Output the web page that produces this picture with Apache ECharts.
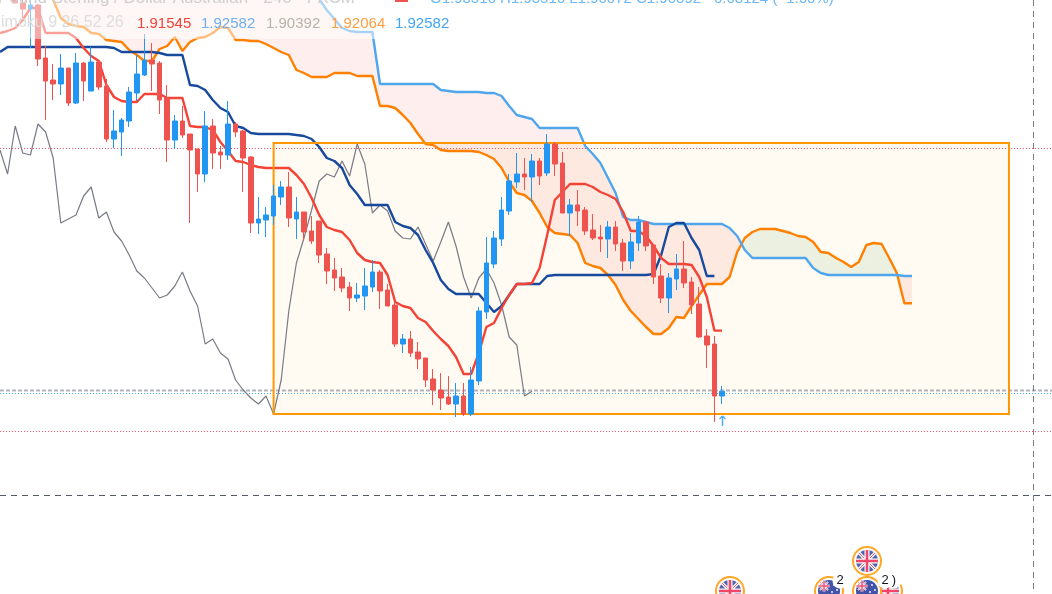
<!DOCTYPE html>
<html><head><meta charset="utf-8">
<style>html,body{margin:0;padding:0;background:#fff;overflow:hidden}#c{width:1052px;height:594px}</style>
<script src="https://cdn.jsdelivr.net/npm/echarts@6/dist/echarts.min.js"></script>
</head><body><div id="c"></div>
<script>
// bar index of the first slot (the chart starts mid-history)
const firstBar = -5;
const lastBar = 134;

const opens = [1.98396,1.98054,1.98206,1.97769,1.97655,1.97731,1.96724,1.96306,1.96230,1.96534,1.95869,1.96629,1.96097,1.96648,1.96192,1.95185,1.95318,1.95527,1.96059,1.96401,1.96686,1.96629,1.95964,1.95166,1.95527,1.95280,1.94995,1.94520,1.95432,1.94938,1.94881,1.95470,1.95337,1.94843,1.93589,1.93646,1.93722,1.94083,1.94273,1.93665,1.93798,1.93437,1.93627,1.93000,1.92696,1.92563,1.92373,1.92164,1.92202,1.92373,1.92658,1.92316,1.92031,1.91290,1.91385,1.91138,1.91024,1.90625,1.90416,1.90283,1.90150,1.90302,1.89960,1.90587,1.91898,1.92810,1.93285,1.93817,1.94368,1.94520,1.94463,1.94767,1.94539,1.95090,1.94729,1.93779,1.93931,1.93836,1.93456,1.93323,1.93285,1.93513,1.93209,1.92867,1.93209,1.93608,1.93171,1.92582,1.92164,1.92525,1.92715,1.92468,1.92050,1.91442,1.91290,1.90302];
const closes = [1.98168,1.98244,1.97769,1.97655,1.97731,1.96705,1.96287,1.96230,1.96534,1.95869,1.96629,1.96287,1.96648,1.96173,1.95185,1.95337,1.95546,1.96078,1.96420,1.96686,1.96610,1.95926,1.95166,1.95527,1.95261,1.94976,1.94520,1.95432,1.94919,1.94881,1.95470,1.95318,1.94824,1.93589,1.93665,1.93741,1.94102,1.94273,1.93684,1.93798,1.93418,1.93247,1.92981,1.92677,1.92544,1.92354,1.92164,1.92221,1.92392,1.92658,1.92297,1.92012,1.91290,1.91385,1.91119,1.91005,1.90606,1.90416,1.90264,1.90150,1.90302,1.89960,1.90606,1.91917,1.92829,1.93304,1.93836,1.94387,1.94520,1.94463,1.94767,1.94482,1.95090,1.94710,1.93779,1.93931,1.93817,1.93437,1.93304,1.93285,1.93513,1.93190,1.92867,1.93228,1.93608,1.93152,1.92563,1.92164,1.92544,1.92715,1.92449,1.92031,1.91423,1.91271,1.90302,1.90392];
const lows = [1.98054,1.97978,1.97769,1.97446,1.96914,1.96572,1.95546,1.95926,1.96021,1.95812,1.95850,1.95907,1.96097,1.96116,1.95128,1.95014,1.94862,1.95413,1.95907,1.96382,1.96097,1.95660,1.94748,1.94995,1.95204,1.93589,1.94178,1.94368,1.94615,1.94615,1.94786,1.95223,1.94178,1.93399,1.93380,1.93323,1.93551,1.93931,1.93513,1.93285,1.93247,1.93190,1.92829,1.92430,1.92297,1.92278,1.91917,1.92088,1.91936,1.92278,1.91955,1.92012,1.91233,1.91119,1.91043,1.90815,1.90473,1.90131,1.90036,1.90131,1.89903,1.89922,1.89922,1.90511,1.91765,1.92734,1.93152,1.93741,1.94254,1.94216,1.93988,1.94311,1.94482,1.94482,1.93779,1.93342,1.93532,1.93361,1.93266,1.93038,1.92924,1.93057,1.92677,1.92715,1.93057,1.93057,1.92430,1.92069,1.91879,1.92316,1.92354,1.91860,1.91404,1.90834,1.89808,1.90150];
const highs = [1.98510,1.98396,1.98358,1.97940,1.97902,1.97750,1.96952,1.96610,1.96800,1.96534,1.96819,1.96648,1.96933,1.96667,1.96325,1.95736,1.95584,1.96173,1.96781,1.97180,1.97009,1.96667,1.96211,1.95641,1.95812,1.95280,1.94995,1.95717,1.95565,1.95052,1.95907,1.95508,1.95356,1.94862,1.94083,1.93893,1.94311,1.94387,1.94558,1.94083,1.93798,1.93722,1.93627,1.93114,1.92924,1.92734,1.92468,1.92449,1.92734,1.92886,1.92696,1.92430,1.92107,1.91480,1.91537,1.91328,1.91024,1.90815,1.90739,1.90682,1.90549,1.90549,1.90853,1.91993,1.93323,1.93437,1.94083,1.94520,1.94919,1.94824,1.94900,1.94824,1.95280,1.95128,1.94938,1.94045,1.94216,1.93893,1.93760,1.93551,1.93627,1.93627,1.93285,1.93399,1.93722,1.93627,1.93190,1.92810,1.92639,1.93000,1.93247,1.92563,1.92373,1.91575,1.91442,1.90492];

const conversionLine = [1.97199,1.97237,1.97294,1.97446,1.97674,1.97674,1.97199,1.97199,1.97199,1.97199,1.97104,1.96914,1.96762,1.96667,1.96211,1.95983,1.95907,1.95888,1.95888,1.96040,1.96040,1.96040,1.95964,1.95964,1.95964,1.95432,1.95413,1.95413,1.95356,1.95128,1.94957,1.94767,1.94748,1.94691,1.94653,1.94634,1.94634,1.94634,1.94634,1.94501,1.94330,1.94064,1.93741,1.93513,1.93456,1.93418,1.93266,1.93019,1.92886,1.92848,1.92829,1.92601,1.92088,1.92012,1.91974,1.91784,1.91708,1.91537,1.91385,1.91252,1.91043,1.90720,1.90720,1.91119,1.91613,1.91689,1.91974,1.92221,1.92430,1.92430,1.92449,1.92734,1.93361,1.94026,1.94178,1.94330,1.94330,1.94330,1.94273,1.94178,1.94121,1.94045,1.93798,1.93437,1.93437,1.93342,1.93152,1.92924,1.92810,1.92810,1.92810,1.92791,1.92563,1.92183,1.91545,1.91545];
const baseLine = [1.96838,1.96933,1.96933,1.96933,1.96933,1.96933,1.96933,1.96933,1.96933,1.96933,1.96933,1.96933,1.96933,1.96933,1.96933,1.96914,1.96838,1.96838,1.96838,1.96838,1.96838,1.96819,1.96781,1.96781,1.96781,1.96211,1.96192,1.96116,1.95926,1.95774,1.95698,1.95432,1.95394,1.95299,1.95280,1.95280,1.95280,1.95280,1.95280,1.95261,1.95242,1.95185,1.95033,1.94824,1.94767,1.94634,1.94311,1.94140,1.93931,1.93931,1.93931,1.93931,1.93608,1.93532,1.93494,1.93361,1.93076,1.92829,1.92506,1.92335,1.92240,1.92240,1.92240,1.92240,1.92069,1.91898,1.92012,1.92221,1.92430,1.92430,1.92430,1.92430,1.92582,1.92601,1.92601,1.92601,1.92601,1.92601,1.92601,1.92601,1.92601,1.92601,1.92601,1.92601,1.92601,1.92601,1.92620,1.92981,1.93513,1.93589,1.93589,1.93304,1.93076,1.92582,1.92582];
const laggingSpan = [1.94976,1.94520,1.95432,1.94919,1.94881,1.95470,1.95318,1.94824,1.93589,1.93665,1.93741,1.94102,1.94273,1.93684,1.93798,1.93418,1.93247,1.92981,1.92677,1.92544,1.92354,1.92164,1.92221,1.92392,1.92658,1.92297,1.92012,1.91290,1.91385,1.91119,1.91005,1.90606,1.90416,1.90264,1.90150,1.90302,1.89960,1.90606,1.91917,1.92829,1.93304,1.93836,1.94387,1.94520,1.94463,1.94767,1.94482,1.95090,1.94710,1.93779,1.93931,1.93817,1.93437,1.93304,1.93285,1.93513,1.93190,1.92867,1.93228,1.93608,1.93152,1.92563,1.92164,1.92544,1.92715,1.92449,1.92031,1.91423,1.91271,1.90302,1.90392];
const spanA = [1.98301,1.98301,1.98301,1.98301,1.98301,1.98206,1.98092,1.97826,1.97484,1.97370,1.97332,1.97313,1.97199,1.97180,1.97066,1.97047,1.97028,1.96876,1.96781,1.96667,1.96667,1.96895,1.96952,1.97123,1.96857,1.97028,1.97104,1.97123,1.97199,1.97313,1.97294,1.97066,1.97066,1.97047,1.97047,1.96990,1.96914,1.96838,1.96781,1.96496,1.96439,1.96363,1.96363,1.96363,1.96439,1.96439,1.96439,1.96382,1.96382,1.96382,1.95812,1.95812,1.95774,1.95641,1.95489,1.95280,1.95090,1.95071,1.94976,1.94957,1.94957,1.94957,1.94957,1.94938,1.94881,1.94805,1.94634,1.94368,1.94159,1.94121,1.94007,1.93779,1.93513,1.93399,1.93380,1.93361,1.93209,1.92829,1.92772,1.92734,1.92601,1.92411,1.92126,1.91917,1.91765,1.91613,1.91480,1.91480,1.91594,1.91803,1.91784,1.92012,1.92221,1.92430,1.92430,1.92430,1.92563,1.93038,1.93304,1.93418,1.93475,1.93475,1.93475,1.93437,1.93399,1.93342,1.93323,1.93228,1.93038,1.93019,1.92924,1.92848,1.92753,1.92848,1.93171,1.93209,1.93190,1.92924,1.92639,1.92064,1.92064];
const spanB = [1.98586,1.98586,1.98586,1.98586,1.98586,1.98586,1.98586,1.98586,1.98586,1.98586,1.98586,1.98586,1.98586,1.98586,1.98586,1.98586,1.98586,1.98586,1.98586,1.98586,1.98586,1.98586,1.98586,1.98586,1.98586,1.98586,1.98586,1.98586,1.98586,1.98586,1.98586,1.98586,1.98586,1.98586,1.98586,1.98586,1.98586,1.98586,1.98586,1.98396,1.98206,1.98016,1.97845,1.97636,1.97465,1.97294,1.97237,1.97218,1.97218,1.97218,1.96230,1.96230,1.96230,1.96230,1.96230,1.96230,1.96230,1.96230,1.96116,1.96097,1.96078,1.96078,1.96078,1.96078,1.96059,1.96059,1.96002,1.95812,1.95641,1.95603,1.95565,1.95394,1.95394,1.95394,1.95394,1.95394,1.95394,1.95052,1.94900,1.94729,1.94444,1.94159,1.93703,1.93646,1.93646,1.93608,1.93570,1.93570,1.93570,1.93570,1.93570,1.93570,1.93570,1.93570,1.93570,1.93570,1.93494,1.93342,1.93076,1.92924,1.92924,1.92924,1.92924,1.92924,1.92924,1.92924,1.92924,1.92734,1.92639,1.92601,1.92601,1.92601,1.92601,1.92601,1.92601,1.92601,1.92601,1.92601,1.92601,1.92582,1.92582];

// horizontal price levels and the vertical time marker
const levelPrices = [1.95014, 1.90416, 1.90359, 1.89637, 1.88421];
const levelKinds = ['red', 'grey', 'blue', 'red', 'dark'];
const markerBar = 130.92;

// drawn rectangle [fromBar, toBar, topPrice, bottomPrice]
const boxFrom = 31, boxTo = 127.76, boxTop = 1.95109, boxBottom = 1.89960;

// economic event flags
const flagBars = [91.05, 104.08, 111.84, 109.08, 109.08];
const flagPrices = [1.86597, 1.86597, 1.86597, 1.86597, 1.87167];
const flagKinds = ['uk', 'au', 'uk', 'au', 'uk'];

const arrowBar = 90, arrowPrice = 1.89827;

const RED = '#EF5350', BLUE = '#2196F3';
const categories = [];
for (let k = firstBar; k <= lastBar; k++) categories.push(String(k));
const yMax = 1.97826, yMin = 1.97826 - 0.00019 * 594;

const candleData = opens.map((o, i) => [o, closes[i], lows[i], highs[i]]);

function cloudItem(params, api) {
  const i = params.dataIndex;
  if (i >= spanA.length - 1) return null;
  const k0 = firstBar + i, k1 = k0 + 1;
  const a0 = spanA[i], b0 = spanB[i], a1 = spanA[i + 1], b1 = spanB[i + 1];
  const d0 = a0 - b0, d1 = a1 - b1;
  const pink = 'rgba(244,67,54,0.09)', green = 'rgba(67,160,71,0.1)';
  const poly = (pts, fill) => ({ type: 'polygon', shape: { points: pts.map(p => api.coord(p)) }, style: { fill: fill, stroke: null } });
  const col = d => d >= 0 ? green : pink;
  if (d0 * d1 >= 0) {
    return poly([[k0, a0], [k1, a1], [k1, b1], [k0, b0]], col(d0 + d1));
  }
  const t = d0 / (d0 - d1), kx = k0 + t, px = a0 + (a1 - a0) * t;
  return { type: 'group', children: [
    poly([[k0, a0], [kx, px], [k0, b0]], col(d0)),
    poly([[kx, px], [k1, a1], [k1, b1]], col(d1))
  ]};
}

function levelItem(params, api) {
  const price = levelPrices[params.dataIndex], kind = levelKinds[params.dataIndex];
  const a = api.coord([firstBar, price]), b = api.coord([lastBar, price]);
  const styles = {
    red: { stroke: '#F7525F', lineWidth: 1, lineDash: [1, 2] },
    grey: { stroke: '#B2B5BE', lineWidth: 2, lineDash: [4, 2] },
    blue: { stroke: '#2196F3', lineWidth: 1, lineDash: [1, 2], opacity: 0.8 },
    dark: { stroke: '#555B66', lineWidth: 1, lineDash: [6, 5] }
  };
  return { type: 'line', shape: { x1: a[0], y1: Math.round(a[1]) + 0.5, x2: b[0], y2: Math.round(b[1]) + 0.5 }, style: styles[kind] };
}

function markerItem(params, api) {
  const k = api.value(0);
  const x = Math.round(api.coord([k, yMax])[0]) + 0.5;
  return { type: 'line', shape: { x1: x, y1: 0, x2: x, y2: 594 }, style: { stroke: '#787B86', lineWidth: 1, lineDash: [6, 5] } };
}

function boxFillItem(params, api) {
  const p0 = api.coord([api.value(0), api.value(2)]), p1 = api.coord([api.value(1), api.value(3)]);
  return { type: 'rect', shape: { x: p0[0], y: p0[1], width: p1[0] - p0[0], height: p1[1] - p0[1] }, style: { fill: 'rgba(255,152,0,0.05)', stroke: null } };
}
function boxBorderItem(params, api) {
  const p0 = api.coord([api.value(0), api.value(2)]), p1 = api.coord([api.value(1), api.value(3)]);
  return { type: 'rect', shape: { x: p0[0], y: p0[1], width: p1[0] - p0[0], height: p1[1] - p0[1] }, style: { fill: 'transparent', stroke: '#FF9800', lineWidth: 2 } };
}

function seg(cx, cy, x1, y1, x2, y2, color, w) {
  return { type: 'line', shape: { x1: cx + x1, y1: cy + y1, x2: cx + x2, y2: cy + y2 }, style: { stroke: color, lineWidth: w } };
}
function ukParts(cx, cy, r, s) {
  const d = r * 0.74, parts = [];
  parts.push(seg(cx, cy, -d, -d, d, d, '#fff', 3 * s), seg(cx, cy, -d, d, d, -d, '#fff', 3 * s));
  parts.push(seg(cx, cy, -d, -d, d, d, '#F0566E', 1 * s), seg(cx, cy, -d, d, d, -d, '#F0566E', 1 * s));
  parts.push(seg(cx, cy, -r, 0, r, 0, '#fff', 5 * s), seg(cx, cy, 0, -r, 0, r, '#fff', 5 * s));
  parts.push(seg(cx, cy, -r, 0, r, 0, '#F0466A', 2.6 * s), seg(cx, cy, 0, -r, 0, r, '#F0466A', 2.6 * s));
  return parts;
}
function flagItem(params, api) {
  const p = api.coord([api.value(0), api.value(1)]);
  const cx = p[0], cy = p[1], kind = flagKinds[params.dataIndex];
  const r = 11;
  const ch = [
    { type: 'circle', shape: { cx: cx, cy: cy, r: 14 }, style: { fill: '#fff', stroke: '#FFA726', lineWidth: 2 } },
    { type: 'circle', shape: { cx: cx, cy: cy, r: r }, style: { fill: kind === 'uk' ? '#5363AE' : '#4253A8' } }
  ];
  if (kind === 'uk') {
    ukParts(cx, cy, r, 1).forEach(x => ch.push(x));
  } else {
    ukParts(cx - 5, cy - 5, 5.5, 0.55).forEach(x => ch.push(x));
    [[5, -6], [8, -1], [3, 1], [5, 6], [-4, 6]].forEach(d => {
      ch.push({ type: 'circle', shape: { cx: cx + d[0], cy: cy + d[1], r: 0.9 }, style: { fill: '#fff' } });
    });
  }
  return { type: 'group', children: ch };
}
function arrowItem(params, api) {
  const p = api.coord([api.value(0), api.value(1)]);
  const x = Math.round(p[0]) + 0.5, y = p[1];
  return { type: 'group', children: [
    seg(x, y, 0, -5, 0, 5, '#4FA9F5', 1.5),
    seg(x, y, -3, -2, 0, -5, '#4FA9F5', 1.2),
    seg(x, y, 3, -2, 0, -5, '#4FA9F5', 1.2)
  ]};
}

const lineSeries = (name, data, color, width, z, opacity) => ({
  name, type: 'line', data, z, symbol: 'none', silent: true, animation: false, xAxisIndex: 0, yAxisIndex: 0,
  lineStyle: { color, width, opacity: opacity || 1 }, clip: true
});
const overlay = (renderItem, data, z, clip) => ({
  type: 'custom', renderItem, data, z, silent: true, animation: false, xAxisIndex: 1, yAxisIndex: 0, clip: clip, encode: { x: 0, y: 1 }
});

const font = '15px "Liberation Sans", Arial, sans-serif';
const headFont = '17px "Liberation Sans", Arial, sans-serif';
const smallFont = '13px "Liberation Sans", Arial, sans-serif';
const txt = (x, y, text, fill, f, align) => ({
  type: 'text', z: 110, silent: true, x, y,
  style: { text, fill, font: f || font, textAlign: align || 'left', textVerticalAlign: 'bottom' }
});

const chart = echarts.init(document.getElementById('c'), null, { renderer: 'canvas', width: 1052, height: 594 });
chart.setOption({
  animation: false,
  backgroundColor: '#ffffff',
  grid: { left: 0, top: 0, width: 1056.4, height: 594, containLabel: false, outerBoundsMode: 'none' },
  xAxis: [
    { type: 'category', data: categories, boundaryGap: false, show: false },
    { type: 'value', min: firstBar, max: lastBar, show: false, splitLine: { show: false } }
  ],
  yAxis: [{ type: 'value', min: yMin, max: yMax, show: false, splitLine: { show: false }, scale: true }],
  series: [
    overlay(boxFillItem, [[boxFrom, boxTo, boxTop, boxBottom]], 1, false),
    overlay(cloudItem, spanA.map((a, i) => [firstBar + i, a, spanB[i]]), 2, true),
    overlay(levelItem, levelPrices.map((p, i) => [i, p]), 3, false),
    overlay(markerItem, [[markerBar, yMax]], 3, false),
    lineSeries('Lagging Span', laggingSpan, '#787B86', 1.2, 4),
    lineSeries('Leading Span A', spanA, '#FF7F00', 2.4, 4),
    lineSeries('Leading Span B', spanB, '#4FA6EC', 2.4, 4),
    lineSeries('Base Line', baseLine, '#174A9C', 2.4, 4),
    lineSeries('Conversion Line', conversionLine, '#F44336', 2.4, 4),
    overlay(boxBorderItem, [[boxFrom, boxTo, boxTop, boxBottom]], 4.5, false),
    {
      type: 'candlestick', data: candleData, z: 5, silent: true, animation: false, barWidth: 5, xAxisIndex: 0, yAxisIndex: 0, clip: true,
      itemStyle: { color: BLUE, color0: RED, borderColor: BLUE, borderColor0: RED, borderWidth: 1 }
    },
    overlay(arrowItem, [[arrowBar, arrowPrice]], 6, false),
    overlay(flagItem, flagBars.map((b, i) => [b, flagPrices[i]]), 7, false)
  ],
  graphic: { elements: [
    { type: 'rect', z: 100, silent: true, shape: { x: 0, y: 0, width: 470, height: 39 }, style: { fill: 'rgba(255,255,255,0.5)' } },
    { type: 'rect', z: 105, silent: true, shape: { x: 395, y: 0, width: 13, height: 2 }, style: { fill: RED } },
    txt(355, 6.5, 'Pound Sterling / Dollar Australian · 240 · FXCM', '#CFCFCF', headFont, 'right'),
    txt(430, 6, 'O1.93516 H1.93516 L1.90072 C1.90392 −0.03124 (−1.60%)', '#6DB8F5', font),
    txt(1, 31, 'imoku 9 26 52 26', '#DDDDDD', '16px "Liberation Sans", Arial, sans-serif'),
    txt(137, 31, '1.91545', '#F44336'),
    txt(201, 31, '1.92582', '#6FAEF0'),
    txt(266, 31, '1.90392', '#B8B2A8'),
    txt(331, 31, '1.92064', '#FF9F40'),
    txt(395, 31, '1.92582', '#42A5F5'),
    { type: 'circle', z: 105, silent: true, shape: { cx: 840, cy: 581, r: 7.5 }, style: { fill: '#fff' } },
    { type: 'circle', z: 105, silent: true, shape: { cx: 885, cy: 581, r: 7.5 }, style: { fill: '#fff' } },
    { type: 'circle', z: 105, silent: true, shape: { cx: 894, cy: 581, r: 7.5 }, style: { fill: '#fff' } },
    txt(840, 587, '2', '#131722', smallFont, 'center'),
    txt(885, 587, '2', '#131722', smallFont, 'center'),
    txt(894, 587, ')', '#131722', smallFont, 'center')
  ]}
});
</script></body></html>
